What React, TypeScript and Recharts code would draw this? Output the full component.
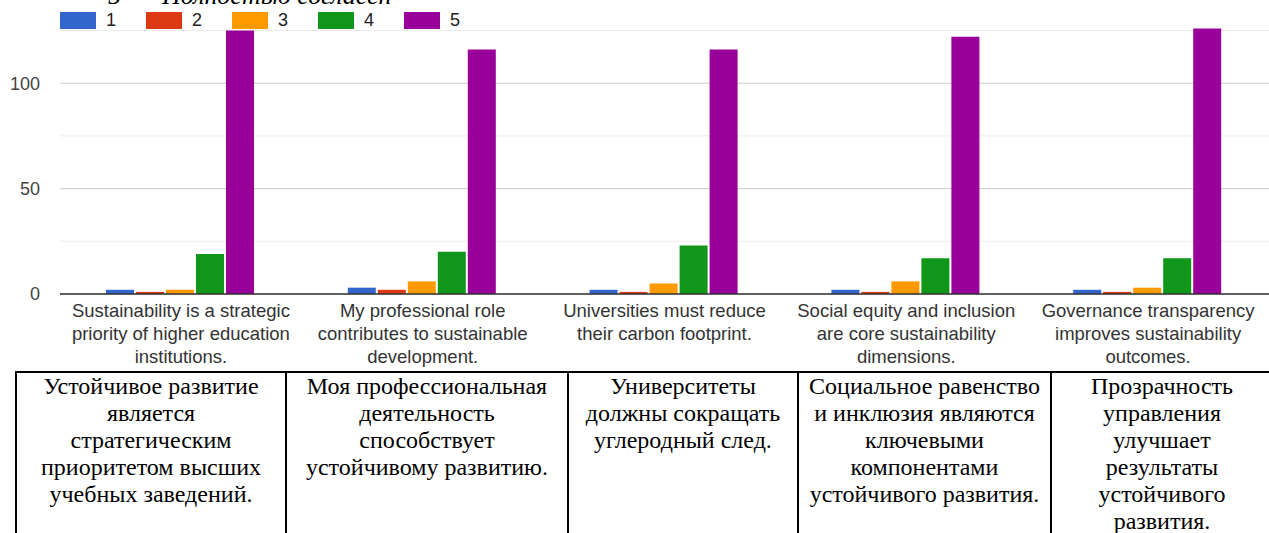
import React from 'react'
import { Bar, BarChart, CartesianGrid, XAxis, YAxis } from 'recharts'

// Survey answers (Likert 1..5) per statement
const categories = [
  'Sustainability is a strategic priority of higher education institutions.',
  'My professional role contributes to sustainable development.',
  'Universities must reduce their carbon footprint.',
  'Social equity and inclusion are core sustainability dimensions.',
  'Governance transparency improves sustainability outcomes.',
]
const categoryLines = [
  ['Sustainability is a strategic', 'priority of higher education', 'institutions.'],
  ['My professional role', 'contributes to sustainable', 'development.'],
  ['Universities must reduce', 'their carbon footprint.'],
  ['Social equity and inclusion', 'are core sustainability', 'dimensions.'],
  ['Governance transparency', 'improves sustainability', 'outcomes.'],
]
const score1 = [2, 3, 2, 2, 2]
const score2 = [1, 2, 1, 1, 1]
const score3 = [2, 6, 5, 6, 3]
const score4 = [19, 20, 23, 17, 17]
const score5 = [125, 116, 116, 122, 126]

const seriesKeys = ['s1', 's2', 's3', 's4', 's5']
const seriesNames = ['1', '2', '3', '4', '5']
const seriesColors = ['#3366cc', '#dc3912', '#ff9900', '#109618', '#990099']

const yTicks = [0, 25, 50, 75, 100, 125]

const ruLines = [
  ['Устойчивое развитие', 'является', 'стратегическим', 'приоритетом высших', 'учебных заведений.'],
  ['Моя профессиональная', 'деятельность', 'способствует', 'устойчивому развитию.'],
  ['Университеты', 'должны сокращать', 'углеродный след.'],
  ['Социальное равенство', 'и инклюзия являются', 'ключевыми', 'компонентами', 'устойчивого развития.'],
  ['Прозрачность', 'управления', 'улучшает', 'результаты', 'устойчивого', 'развития.'],
]
const ruColWidths = [270, 282, 230, 253, 222]

const data = categories.map((name, i) => ({
  name,
  s1: score1[i],
  s2: score2[i],
  s3: score3[i],
  s4: score4[i],
  s5: score5[i],
}))

const sans = "Arial, 'Liberation Sans', sans-serif"
const serif = "'Liberation Serif', 'Times New Roman', serif"

function CategoryTick(props: any) {
  const { x, y, payload } = props
  const idx = categories.indexOf(payload.value)
  const lines = idx >= 0 ? categoryLines[idx] : [String(payload.value)]
  return (
    <text x={x} y={y} textAnchor="middle" fill="#333" fontSize={18.5} fontFamily={sans}>
      {lines.map((l, i) => (
        <tspan key={i} x={x} dy={i === 0 ? 22.5 : 23.4}>
          {l}
        </tspan>
      ))}
    </text>
  )
}

const renderGridLine = (props: any) => {
  const { x1, y1, x2, y2, index } = props
  const major = yTicks[index] % 50 === 0
  return (
    <line
      key={`g-${index}`}
      x1={x1}
      y1={y1}
      x2={x2}
      y2={y2}
      stroke={major ? '#cccccc' : '#ebebeb'}
      strokeWidth={1}
    />
  )
}

export default function App() {
  return (
    <div
      style={{
        position: 'fixed',
        top: 0,
        left: 0,
        width: 1269,
        height: 533,
        overflow: 'hidden',
        background: '#fff',
      }}
    >
      {/* caption of the previous paragraph, cut off by the crop */}
      <div
        style={{
          position: 'absolute',
          top: -19,
          left: 0,
          fontFamily: serif,
          fontStyle: 'italic',
          fontSize: 26,
          lineHeight: '30px',
          whiteSpace: 'nowrap',
        }}
      >
        <span style={{ position: 'absolute', left: 108 }}>5</span>
        <span style={{ position: 'absolute', left: 128 }}>–</span>
        <span style={{ position: 'absolute', left: 162 }}>Полностью согласен</span>
      </div>

      <div style={{ position: 'absolute', top: 0, left: 0 }}>
        <BarChart
          width={1269}
          height={373}
          data={data}
          margin={{ top: 20, right: 0, bottom: 0, left: 0 }}
          barCategoryGap={46}
          barGap={2}
        >
          <CartesianGrid vertical={false} horizontal={renderGridLine} syncWithTicks />
          <XAxis
            dataKey="name"
            interval={0}
            height={79}
            tickLine={false}
            tickSize={0}
            tickMargin={0}
            axisLine={{ stroke: '#333', strokeWidth: 1.5 }}
            tick={<CategoryTick />}
          />
          <YAxis
            width={60}
            domain={[0, 130]}
            ticks={yTicks}
            allowDataOverflow
            axisLine={false}
            tickLine={false}
            tickSize={0}
            tickMargin={20}
            tick={{ fill: '#444', fontSize: 18, fontFamily: sans }}
            tickFormatter={(v: number) => (v % 50 === 0 ? String(v) : '')}
          />
          {seriesKeys.map((k, i) => (
            <Bar
              key={k}
              dataKey={k}
              name={seriesNames[i]}
              fill={seriesColors[i]}
              isAnimationActive={false}
            />
          ))}
        </BarChart>
      </div>

      {/* legend */}
      <div
        style={{
          position: 'absolute',
          top: 12,
          left: 60,
          display: 'flex',
          fontFamily: sans,
          fontSize: 18,
          lineHeight: '17px',
          color: '#222',
        }}
      >
        {seriesNames.map((n, i) => (
          <div key={n} style={{ display: 'flex', alignItems: 'center', width: 86 }}>
            <span
              style={{ display: 'inline-block', width: 36, height: 17, background: seriesColors[i], marginRight: 10 }}
            />
            <span>{n}</span>
          </div>
        ))}
      </div>

      <div
        style={{
          position: 'absolute',
          top: 371,
          left: 15,
          display: 'flex',
          fontFamily: serif,
          fontSize: 24,
          lineHeight: '27px',
          color: '#000',
        }}
      >
        {ruLines.map((lines, i) => (
          <div
            key={i}
            style={{
              boxSizing: 'border-box',
              width: ruColWidths[i],
              height: 200,
              borderTop: '2px solid #000',
              borderLeft: '2px solid #000',
              textAlign: 'center',
            }}
          >
            {lines.map((l, j) => (
              <div key={j}>{l}</div>
            ))}
          </div>
        ))}
      </div>
    </div>
  )
}
